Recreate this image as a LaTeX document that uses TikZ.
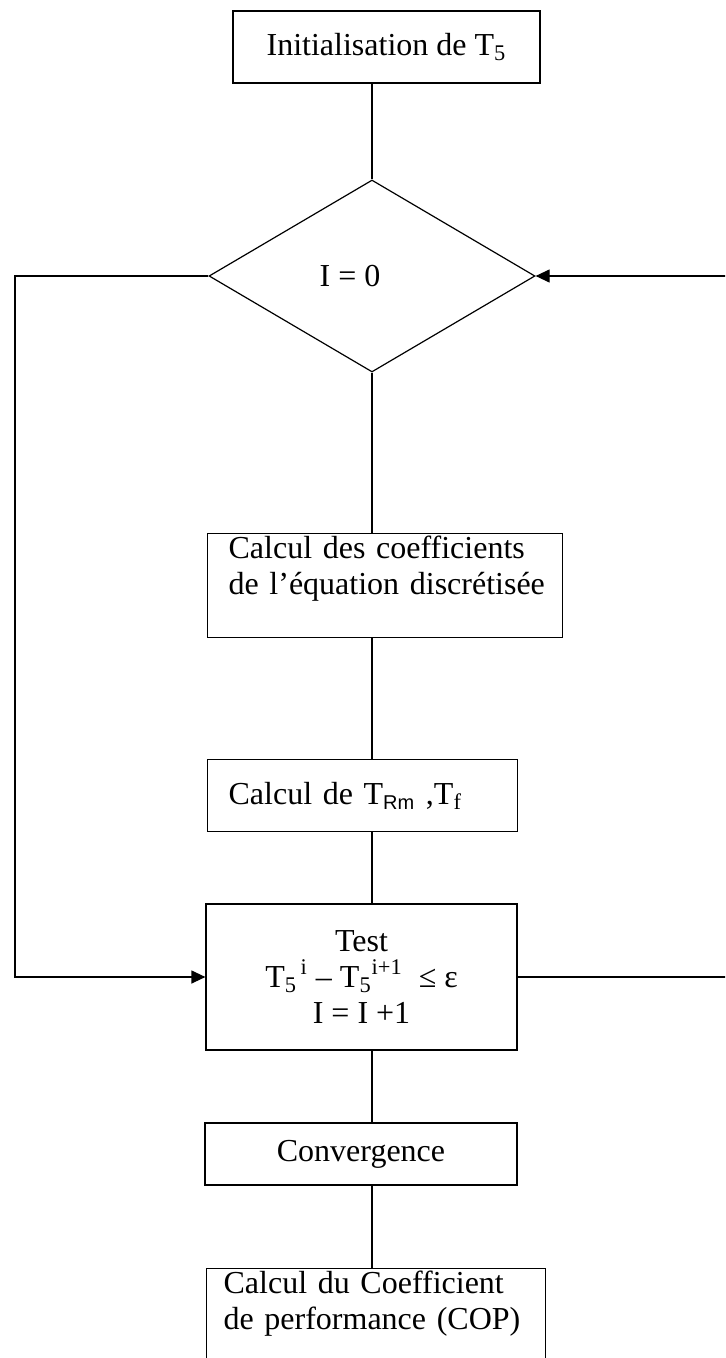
\documentclass[tikz,border=0pt]{standalone}
\usepackage{fontspec}
\setmainfont{Liberation Serif}
\setsansfont{Liberation Sans}
\usetikzlibrary{arrows.meta,shapes.geometric}
\tikzset{
 box/.style={draw,line width=0.6pt,align=center,inner sep=0pt,
             font=\fontsize{16}{18}\selectfont},
 leftbox/.style={draw,line width=0.6pt,align=left,anchor=north west,
             inner xsep=10.5pt,text height=11pt,font=\fontsize{16}{18}\selectfont},
 decision/.style={draw,diamond,line width=0.6pt,inner sep=0pt,minimum width=163pt,
             minimum height=96pt,font=\fontsize{16}{18}\selectfont},
 link/.style={line width=0.6pt},
 arrow/.style={-{Triangle[length=7pt,width=6.5pt]},line width=0.6pt}
}
\begin{document}
\begin{tikzpicture}[x=0.5pt,y=-0.5pt]
\useasboundingbox (0,0) rectangle (725,1358);
\clip (0,0) rectangle (725,1358);
% main column
\node[box,minimum width=153.5pt,minimum height=36pt] (init) at (386.5,47) {Initialisation de T\textsubscript{5}};
\node[decision] (dia) at (372,276) {\raisebox{-3pt}{I = 0}\kern22pt};
\node[leftbox,text width=156.5pt,inner ysep=1.5pt,text depth=38pt] (coef) at (207,533)
  {\mbox{Calcul des coefficients}\\\mbox{de l’équation discrétisée}};
\node[leftbox,text width=134pt,inner ysep=0pt,text height=,minimum height=36pt] (trm) at (207,759)
  {Calcul de T\textsubscript{\sffamily\fontsize{10}{10}\selectfont Rm} ,T\textsubscript{f}};
\node[box,minimum width=155.5pt,minimum height=73pt] (test) at (361.5,977)
  {Test\\T\textsubscript{5}\textsuperscript{\,i} – T\textsubscript{5}\textsuperscript{i+1} \ ≤ ε\\I = I +1};
\node[box,minimum width=156pt,minimum height=31pt] (conv) at (361,1154) {Convergence};
\node[leftbox,inner xsep=8.5pt,text width=152.5pt,inner ysep=1.5pt,text depth=45pt] (cop) at (206,1268)
  {\mbox{Calcul du Coefficient}\\\mbox{de performance (COP)}};
% loop corners
\coordinate (loopL) at (15,600);
\coordinate (loopR) at (745,600);
% connectors
\draw[link] (dia.north |- init.south) -- (dia.north);
\draw[link] (dia.south) -- (dia.south |- coef.north);
\draw[link] (dia.south |- coef.south) -- (dia.south |- trm.north);
\draw[link] (dia.south |- trm.south) -- (dia.south |- test.north);
\draw[link] (dia.south |- test.south) -- (dia.south |- conv.north);
\draw[link] (dia.south |- conv.south) -- (dia.south |- cop.north);
\draw[arrow] (dia.west) -| (loopL) |- (test.west);
\draw[arrow] (test.east) -| (loopR) |- (dia.east);
\end{tikzpicture}
\end{document}
